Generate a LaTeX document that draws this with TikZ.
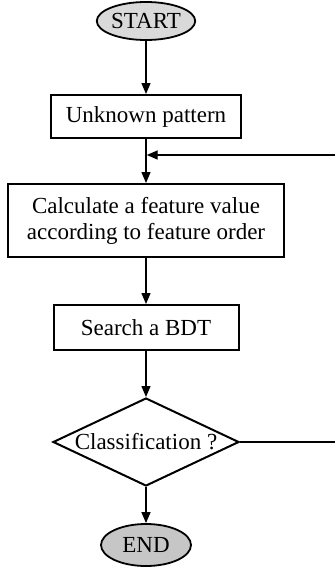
\documentclass[tikz,border=0pt]{standalone}
\usepackage{fontspec}
\setmainfont{Liberation Serif}
\usetikzlibrary{shapes.geometric,arrows.meta}
\begin{document}
\begin{tikzpicture}[x=1pt,y=-1pt,
  every node/.style={font=\fontsize{23}{26}\selectfont, inner sep=0pt, align=center},
  procbox/.style={draw, line width=2pt, rectangle},
  term/.style={draw, line width=1.8pt, ellipse},
  decision/.style={draw, line width=2pt, diamond, shape aspect=2.1, minimum width=186pt, minimum height=88pt},
  flow/.style={line width=1.4pt, -{Triangle[length=11pt,width=9pt]}},
  plain/.style={line width=1.4pt}]
\useasboundingbox (0,0) rectangle (335,570);
\node[term, fill=gray!30, minimum width=90pt, minimum height=38pt] (start) at (146,21) {START};
\node[procbox, minimum width=190pt, minimum height=43pt] (unk) at (146,116.5) {Unknown pattern};
\node[procbox, minimum width=276pt, minimum height=73pt] (calc) at (146,220.5) {Calculate a feature value\\according to feature order};
\node[procbox, minimum width=185pt, minimum height=45pt] (bdt) at (146,327.5) {Search a BDT};
\node[decision] (cls) at (146,442) {Classification ?};
\node[term, fill=gray!45, minimum width=90pt, minimum height=42pt] (end) at (146,545) {END};
\coordinate (fbin) at (335,155);
\coordinate (fbout) at (335,442);
\coordinate (join) at (146,155);
\draw[flow] (start.south) -- (unk.north);
\draw[flow] (unk.south) -- (calc.north);
\draw[flow] (fbin) -- ([xshift=0.7pt]join);
\draw[flow] (calc.south) -- (bdt.north);
\draw[flow] (bdt.south) -- (cls.north);
\draw[flow] (cls.south) -- (end.north);
\draw[plain] (cls.east) -- (fbout);
\end{tikzpicture}
\end{document}
